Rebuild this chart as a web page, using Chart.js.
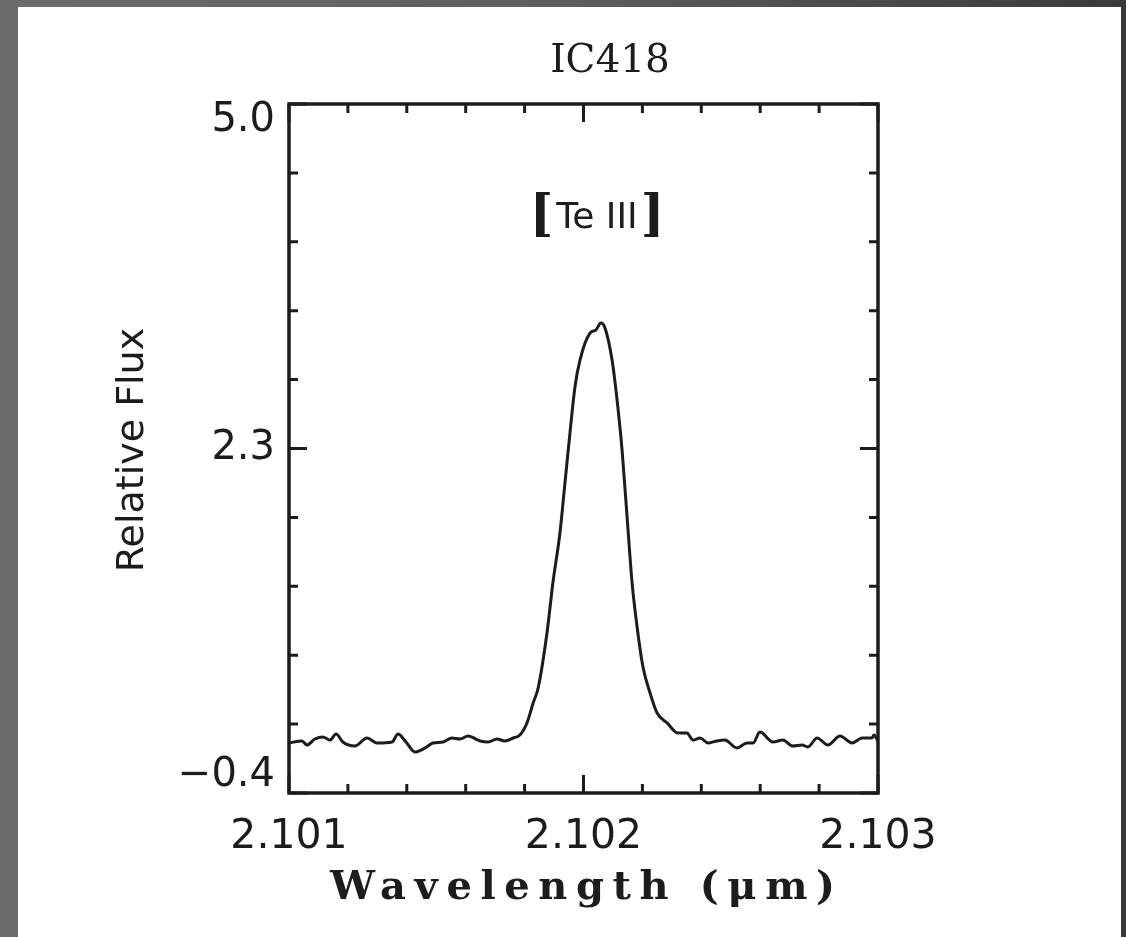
<!DOCTYPE html>
<html>
<head>
<meta charset="utf-8">
<title>IC418 [Te III]</title>
<script src="https://cdn.jsdelivr.net/npm/chart.js@4.4.1/dist/chart.umd.min.js"></script>
<style>
  html, body { margin: 0; padding: 0; }
  body {
    width: 1126px; height: 937px; position: relative; overflow: hidden;
    background: linear-gradient(to right, #6c6c6c, #5e5e5e 50%, #3a3a3a);
  }
  #panel { position: absolute; left: 18px; top: 7px; width: 1103px; height: 930px; background: #fff; }
  #wrap { position: absolute; left: 0; top: 0; width: 1126px; height: 937px; }
</style>
</head>
<body>
<div id="panel"></div>
<div id="wrap"><canvas id="specChart" width="1126" height="937"></canvas></div>
<script>
// wavelength (micron) and relative flux
const wavelength = [
  2.10100, 2.101044, 2.101061, 2.101088, 2.101115, 2.101139, 2.101160, 2.101183,
  2.101224, 2.101265, 2.101299, 2.101350, 2.101370, 2.101397, 2.101428, 2.101462,
  2.101489, 2.101523, 2.101553, 2.101581, 2.101608, 2.101649, 2.101676, 2.101706,
  2.101733, 2.101761, 2.101784, 2.101808, 2.101829, 2.101846, 2.101876, 2.101896,
  2.101920, 2.101937, 2.101954, 2.101971, 2.101988, 2.102022, 2.102042, 2.102059,
  2.102073, 2.102097, 2.102114, 2.102131, 2.102148, 2.102165, 2.102182, 2.102202,
  2.102226, 2.102250, 2.102284, 2.102321, 2.102351, 2.102372, 2.102396, 2.102423,
  2.102453, 2.102480, 2.102521, 2.102555, 2.102576, 2.102599, 2.102643, 2.102677,
  2.102711, 2.102742, 2.102762, 2.102793, 2.102830, 2.102871, 2.102912, 2.102946,
  2.102980, 2.102986, 2.103000
];
const flux = [
  -0.008, 0.008, -0.024, 0.023, 0.039, 0.015, 0.062, 0.000,
  -0.032, 0.031, -0.008, 0.000, 0.062, 0.000, -0.079, -0.047,
  -0.008, 0.000, 0.031, 0.023, 0.047, 0.008, 0.000, 0.023,
  0.008, 0.031, 0.055, 0.149, 0.305, 0.423, 0.854, 1.246,
  1.638, 2.029, 2.421, 2.782, 2.993, 3.205, 3.229, 3.283,
  3.245, 2.993, 2.680, 2.288, 1.763, 1.246, 0.901, 0.587,
  0.384, 0.227, 0.149, 0.070, 0.070, 0.015, 0.031, -0.008,
  0.008, 0.015, -0.047, -0.008, -0.008, 0.078, 0.000, 0.015,
  -0.032, -0.024, -0.039, 0.031, -0.024, 0.047, -0.008, 0.031,
  0.031, 0.055, 0.008
];

const xTicks = [2.101, 2.102, 2.103];
const xMinorTicks = [2.1012, 2.1014, 2.1016, 2.1018, 2.1022, 2.1024, 2.1026, 2.1028];
const yTicks = [-0.4, 2.3, 5.0];
const yMinorTicks = [0.14, 0.68, 1.22, 1.76, 2.84, 3.38, 3.92, 4.46];

const titleText = "IC418";
const lineLabel = "Te III";
const xTitle = "Wavelength (\u03BCm)";
const yTitle = "Relative Flux";

const ink = "#1c1c1c";
const sansFont = '"DejaVu Sans"';
const serifFont = '"DejaVu Serif"';

// frame, inward ticks and the text around the plot
const framePlugin = {
  id: "framePlugin",
  afterDraw(chart) {
    const ctx = chart.ctx;
    const area = chart.chartArea;
    const xs = chart.scales.x;
    const ys = chart.scales.y;

    ctx.save();
    ctx.strokeStyle = ink;
    ctx.lineWidth = 3.5;
    ctx.strokeRect(area.left, area.top, area.right - area.left, area.bottom - area.top);

    ctx.lineWidth = 3;
    ctx.beginPath();
    xTicks.concat(xMinorTicks).forEach((v) => {
      const px = xs.getPixelForValue(v);
      const len = xTicks.includes(v) ? 18 : 9;
      ctx.moveTo(px, area.bottom);
      ctx.lineTo(px, area.bottom - len);
      ctx.moveTo(px, area.top);
      ctx.lineTo(px, area.top + len);
    });
    yTicks.concat(yMinorTicks).forEach((v) => {
      const py = ys.getPixelForValue(v);
      const len = yTicks.includes(v) ? 18 : 9;
      ctx.moveTo(area.left, py);
      ctx.lineTo(area.left + len, py);
      ctx.moveTo(area.right, py);
      ctx.lineTo(area.right - len, py);
    });
    ctx.stroke();

    ctx.fillStyle = ink;
    ctx.textBaseline = "alphabetic";

    // title
    ctx.textAlign = "center";
    ctx.font = "39px " + serifFont;
    ctx.fillText(titleText, 610, 72);

    // line label with tall brackets
    ctx.font = "36px " + sansFont;
    const w = ctx.measureText(lineLabel).width;
    const cx = 597;
    ctx.textAlign = "left";
    ctx.fillText(lineLabel, cx - w / 2, 228);
    ctx.font = "bold 50px " + serifFont;
    ctx.textAlign = "right";
    ctx.fillText("[", cx - w / 2 - 3, 230);
    ctx.textAlign = "left";
    ctx.fillText("]", cx + w / 2 + 3, 230);

    // x axis title
    ctx.font = "bold 40px " + serifFont;
    ctx.textAlign = "left";
    const xw = ctx.measureText(xTitle).width;
    const spacing = Math.max(0, (505 - xw) / (xTitle.length - 1));
    ctx.letterSpacing = spacing + "px";
    ctx.fillText(xTitle, 330, 899);
    ctx.letterSpacing = "0px";

    // y axis title
    ctx.translate(143, 450);
    ctx.rotate(-Math.PI / 2);
    ctx.textAlign = "center";
    ctx.font = "38px " + sansFont;
    ctx.fillText(yTitle, 0, 0);
    ctx.restore();
  },
};

const points = wavelength.map((x, i) => ({ x: x, y: flux[i] }));

new Chart(document.getElementById("specChart"), {
  type: "line",
  data: {
    datasets: [
      {
        data: points,
        borderColor: ink,
        borderWidth: 3,
        pointRadius: 0,
        cubicInterpolationMode: "monotone",
        fill: false,
      },
    ],
  },
  options: {
    responsive: false,
    animation: false,
    devicePixelRatio: 1,
    layout: { padding: { left: 0, top: 104, right: 248, bottom: 0 } },
    plugins: {
      legend: { display: false },
      tooltip: { enabled: false },
    },
    scales: {
      x: {
        type: "linear",
        min: 2.101,
        max: 2.103,
        afterBuildTicks: (scale) => {
          scale.ticks = xTicks.map((v) => ({ value: v }));
        },
        afterFit: (scale) => {
          scale.height = 144;
        },
        grid: { display: false, drawTicks: false },
        border: { display: false },
        ticks: {
          color: ink,
          padding: 20,
          maxRotation: 0,
          font: { family: "DejaVu Sans", size: 41 },
          callback: (v) => v.toFixed(3),
        },
      },
      y: {
        type: "linear",
        min: -0.4,
        max: 5.0,
        afterBuildTicks: (scale) => {
          scale.ticks = yTicks.map((v) => ({ value: v }));
        },
        afterFit: (scale) => {
          scale.width = 289;
        },
        grid: { display: false, drawTicks: false },
        border: { display: false },
        ticks: {
          color: ink,
          padding: 14,
          font: { family: "DejaVu Sans", size: 40, lineHeight: 0.85 },
          callback: (v) => {
            const s = v < 0 ? "\u2212" + Math.abs(v).toFixed(1) : v.toFixed(1);
            if (v === 5.0) return ["", s];
            if (v === -0.4) return [s, ""];
            return s;
          },
        },
      },
    },
  },
  plugins: [framePlugin],
});
</script>
</body>
</html>
